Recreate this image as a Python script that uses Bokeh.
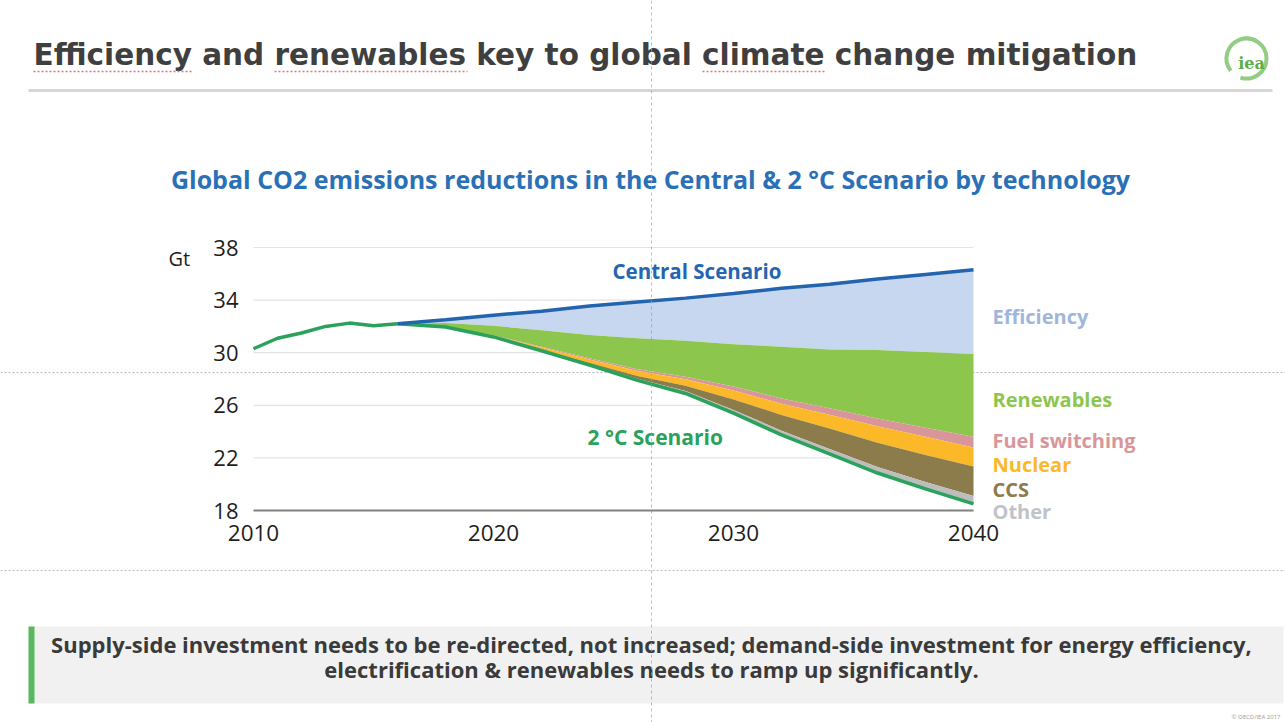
import numpy as np
from bokeh.plotting import figure
from bokeh.models import Range1d, LinearAxis, FixedTicker
from bokeh.core.properties import value
from bokeh.embed import file_html
from bokeh.resources import INLINE

# ---------------- data ----------------
hist_years = [2010, 2011, 2012, 2013, 2014, 2015, 2016]
hist_values = [30.3, 31.1, 31.5, 32.0, 32.25, 32.05, 32.2]

years = [2016, 2018, 2020, 2022, 2024, 2026, 2028, 2030, 2032, 2034, 2036, 2038, 2040]
central = [32.2, 32.5, 32.85, 33.15, 33.55, 33.85, 34.15, 34.5, 34.9, 35.2, 35.6, 35.95, 36.3]
efficiency = [0, 0.25, 0.8, 1.45, 2.2, 2.75, 3.25, 3.85, 4.45, 4.95, 5.4, 5.9, 6.4]
renewables = [0, 0.27, 0.72, 1.24, 1.77, 2.35, 2.72, 3.22, 3.93, 4.47, 5.2, 5.75, 6.3]
fuel_switching = [0, 0.01, 0.03, 0.06, 0.1, 0.15, 0.2, 0.3, 0.4, 0.5, 0.6, 0.7, 0.8]
nuclear = [0, 0.02, 0.06, 0.15, 0.25, 0.38, 0.5, 0.68, 0.85, 1.05, 1.25, 1.38, 1.45]
ccs = [0, 0, 0.02, 0.05, 0.1, 0.2, 0.4, 0.8, 1.2, 1.55, 1.85, 2.05, 2.25]
other = [0, 0, 0.02, 0.05, 0.08, 0.12, 0.18, 0.25, 0.32, 0.38, 0.45, 0.52, 0.6]

technologies = ["Efficiency", "Renewables", "Fuel switching", "Nuclear", "CCS", "Other"]
tech_colors = ["#c6d7ef", "#8dc64d", "#d9969a", "#fbb829", "#8c7b4b", "#bdbdbd"]
label_colors = ["#9fb6da", "#8dc64d", "#d9969a", "#fbb829", "#8c7b4b", "#bfc3c8"]

x_ticks = [2010, 2020, 2030, 2040]
y_ticks = [18, 22, 26, 30, 34, 38]

title_text = "Efficiency and renewables key to global climate change mitigation"
subtitle_text = "Global CO2 emissions reductions in the Central & 2 \u00b0C Scenario by technology"
box_line1 = "Supply-side investment needs to be re-directed, not increased; demand-side investment for energy efficiency,"
box_line2 = "electrification & renewables needs to ramp up significantly."

# ---------------- layout constants (pixels) ----------------
W, H = 1285, 722
X0_PX, PX_PER_YEAR = 253, 24.0
Y0_PX, PX_PER_GT = 510, 13.15

FONT = "Open Sans"

p = figure(width=W, height=H, output_backend="svg", toolbar_location=None,
           x_axis_location=None, y_axis_location=None,
           x_range=Range1d(2010 - X0_PX / PX_PER_YEAR, 2010 + (W - X0_PX) / PX_PER_YEAR),
           y_range=Range1d(18 - (H - Y0_PX) / PX_PER_GT, 18 + Y0_PX / PX_PER_GT),
           min_border=0, outline_line_color=None, background_fill_color="white",
           border_fill_color="white")
p.grid.visible = False
p.extra_x_ranges = {"px": Range1d(0, W)}
p.extra_y_ranges = {"py": Range1d(H, 0)}
PX = dict(x_range_name="px", y_range_name="py")

# guide lines (behind)
p.segment(x0=[0, 0], y0=[372, 570], x1=[W, W], y1=[372, 570], line_color="#b8b8b8",
          line_width=1.2, line_dash="2 2", **PX)

# grid lines
p.segment(x0=[x_ticks[0]] * (len(y_ticks) - 1), y0=y_ticks[1:],
          x1=[x_ticks[-1]] * (len(y_ticks) - 1), y1=y_ticks[1:],
          line_color="#e3e3e3", line_width=1.2)

# stacked wedges from central downwards
c = np.array(central, dtype=float)
wedges = [efficiency, renewables, fuel_switching, nuclear, ccs, other]
top = c.copy()
for w, col in zip(wedges, tech_colors):
    bottom = top - np.array(w, dtype=float)
    p.varea(x=years, y1=bottom, y2=top, fill_color=col)
    top = bottom
two_deg = top

# lines
p.line(hist_years, hist_values, line_color="#2ba25b", line_width=3.5)
p.line(years, two_deg, line_color="#2ba25b", line_width=3.5)
p.line(years, central, line_color="#2264ad", line_width=3.5)

# axes
xaxis = LinearAxis(fixed_location=18, ticker=FixedTicker(ticks=x_ticks), bounds=(2010, 2040),
                   axis_line_color="#808080", axis_line_width=2,
                   major_tick_line_color=None, minor_tick_line_color=None,
                   major_label_text_font=FONT, major_label_text_font_size="22.5px",
                   major_label_text_color="#1e1e1e", major_label_standoff=8)
p.add_layout(xaxis, "below")
yaxis = LinearAxis(fixed_location=2010, ticker=FixedTicker(ticks=y_ticks),
                   axis_line_color=None, major_tick_line_color=None, minor_tick_line_color=None,
                   major_label_text_font=FONT, major_label_text_font_size="22px",
                   major_label_text_color="#1e1e1e", major_label_standoff=9)
p.add_layout(yaxis, "left")

# chart texts
p.text(x=[168], y=[258], text=["Gt"], text_font=value(FONT), text_font_size=value("20px"),
       text_color="#1e1e1e", text_baseline="middle", **PX)
p.text(x=[612], y=[270], text=["Central Scenario"], text_font=value(FONT),
       text_font_size=value("20.5px"), text_font_style="bold", text_color="#2466b0",
       text_baseline="middle", **PX)
p.text(x=[587], y=[436], text=["2 \u00b0C Scenario"], text_font=value(FONT),
       text_font_size=value("21px"), text_font_style="bold", text_color="#2ba25b",
       text_baseline="middle", **PX)
label_y = [316, 399, 440, 464, 489, 511]
p.text(x=[992] * 6, y=label_y, text=technologies, text_font=value(FONT),
       text_font_size=value("20px"), text_font_style="bold", text_color=label_colors,
       text_baseline="middle", **PX)

# slide title
p.text(x=[33], y=[54], text=[title_text], text_font=value("DejaVu Sans"), text_font_size=value("29.5px"),
       text_font_style="bold", text_color="#3f3f3f", text_baseline="middle", **PX)
p.segment(x0=[33, 274, 702], y0=[71, 71, 71], x1=[191, 467, 825], y1=[71, 71, 71],
          line_color="#e07580", line_width=1.5, line_dash="2 2", **PX)
p.segment(x0=[28], y0=[90], x1=[1272], y1=[90], line_color="#d6d6d6", line_width=3, **PX)

# iea logo
p.arc(x=[1246], y=[58], radius=20, start_angle=4.4, end_angle=3.8, direction="anticlock",
      line_color="#92cc85", line_width=4, **PX)
p.text(x=[1251], y=[63], text=["iea"], text_font=value("DejaVu Serif"), text_font_size=value("16px"),
       text_font_style="bold", text_color="#5aae4a", text_align="center", text_baseline="middle", **PX)

# subtitle
p.text(x=[650], y=[178], text=[subtitle_text], text_font=value(FONT), text_font_size=value("25px"),
       text_font_style="bold", text_color="#2a70b6", text_align="center", text_baseline="middle", **PX)

# bottom box
p.quad(left=[28], right=[1283], top=[626], bottom=[703], fill_color="#f1f1f1", line_color=None, **PX)
p.quad(left=[28], right=[34], top=[626], bottom=[703], fill_color="#5cb85c", line_color=None, **PX)
p.text(x=[651, 651], y=[643, 668], text=[box_line1, box_line2], text_font=value(FONT),
       text_font_size=value("22px"), text_font_style="bold", text_color="#3a3a3a",
       text_align="center", text_baseline="middle", **PX)
p.text(x=[1280], y=[716], text=["\u00a9 OECD/IEA 2017"], text_font=value(FONT),
       text_font_size=value("6px"), text_color="#9a9a9a", text_align="right",
       text_baseline="middle", **PX)

# vertical guide line (on top)
p.segment(x0=[651], y0=[0], x1=[651], y1=[H], line_color="#a0a0a0", line_width=1,
          line_dash="3 3", line_alpha=0.7, **PX)

open("out.html", "w").write(file_html(p, INLINE))
